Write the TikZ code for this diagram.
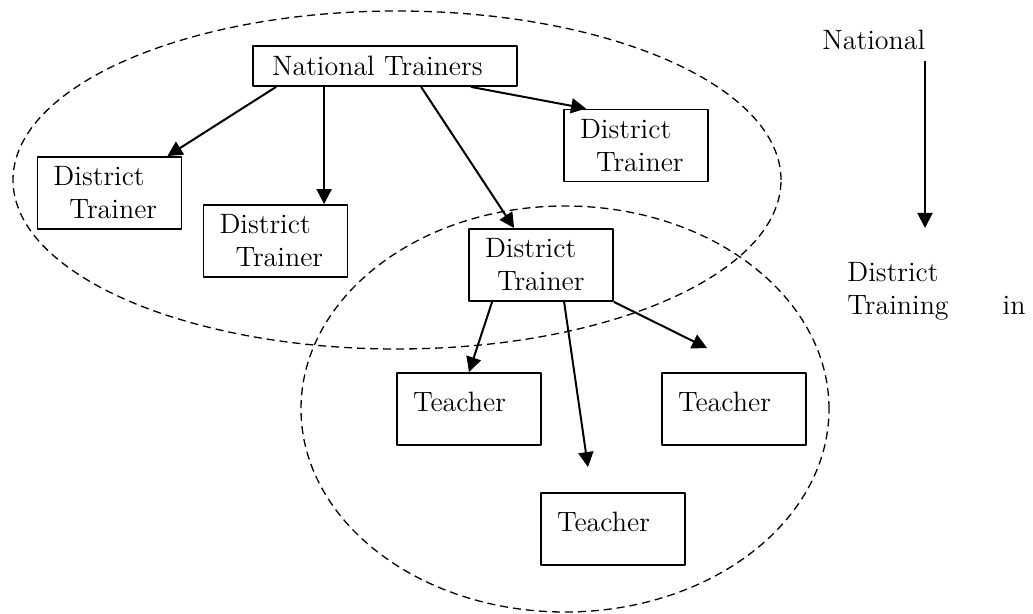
\documentclass[tikz,border=0pt]{standalone}
\usepackage{fontspec}
\usetikzlibrary{arrows.meta}

\begin{document}
\begin{tikzpicture}[
  x=0.5pt,
  y=-0.5pt,
  line join=round,
  labeltext/.style={font=\fontsize{14}{16.5}\selectfont},
  box/.style={draw,line width=0.9pt,rectangle,minimum width=72pt,minimum height=36pt,
    inner xsep=8pt,text width=56pt,align=left,labeltext},
  teacherbox/.style={box,text depth=7.7pt},
  headbox/.style={box,minimum width=132pt,minimum height=20pt,inner xsep=9.5pt,text width=113pt},
  group/.style={draw,line width=0.65pt,dash pattern=on 4pt off 2.5pt},
  link/.style={draw,line width=1pt,-{Triangle[length=7.5pt,width=7.5pt]}},
  side/.style={labeltext,inner sep=0pt,anchor=base west}
]
  \useasboundingbox (0,0) rectangle (1033,614);

  % Dashed groups: national level and district level.
  \draw[group] (397,180) ellipse[x radius=192pt,y radius=84.5pt];
  \draw[group] (565,409) ellipse[x radius=132pt,y radius=101.5pt];

  % Trainers.
  \node[headbox] (nt) at (385,66) {National Trainers};
  \node[box] (dta) at (109.5,193) {District\\\hspace*{8pt}Trainer};
  \node[box] (dtb) at (275.5,241) {District\\\hspace*{8pt}Trainer};
  \node[box] (dtc) at (636,145.5) {District\\\hspace*{8pt}Trainer};
  \node[box] (dtd) at (541,265) {District\\\hspace*{6pt}Trainer};

  % Teachers.
  \node[teacherbox] (tca) at (469,409) {Teacher};
  \node[teacherbox] (tcb) at (734,409) {Teacher};
  \node[teacherbox] (tcc) at (613,529) {Teacher};

  % Cascade arrows.
  \draw[link] ([xshift=12pt]nt.south west) -- ([xshift=-7.5pt]dta.north east);
  \draw[link] ([xshift=36pt]nt.south west) -- ([xshift=36pt]nt.south west |- dtb.north);
  \draw[link] ([xshift=84.5pt]nt.south west) -- ([xshift=23pt]dtd.north west);
  \draw[link] ([xshift=-23.5pt]nt.south east) -- ([xshift=11.5pt]dtc.north west);
  \draw[link] ([xshift=12pt]dtd.south west) -- (tca.north);
  \draw[link] ([xshift=48pt]dtd.south west) -- ([shift={(-12.5pt,12.5pt)}]tcc.north);
  \draw[link] (dtd.south east) -- ([shift={(23pt,12pt)}]tcb.north west);

  % Level legend on the right.
  \node[side] (natlbl) at (822,50) {National};
  \node[side] (distlbl) at (847,282) {District};
  \node[side] (trainlbl) at (847,315) {Training\hspace{27pt}in};
  \coordinate (lvltop) at (925,61);
  \coordinate (lvlbot) at (925,228);
  \draw[link] (lvltop) -- (lvlbot);
\end{tikzpicture}
\end{document}
